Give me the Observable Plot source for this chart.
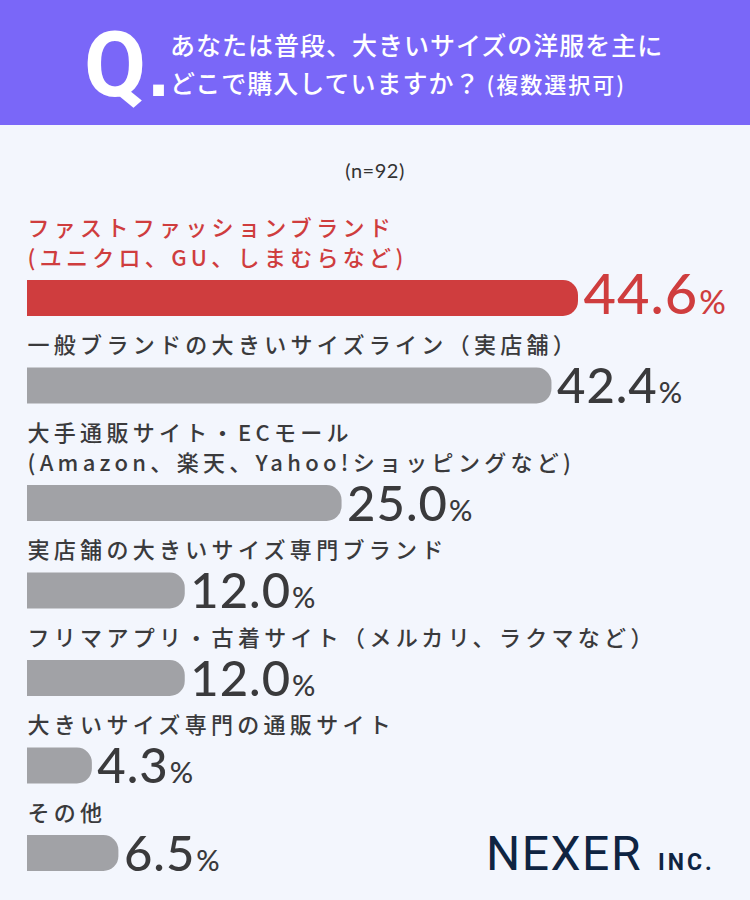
<!DOCTYPE html>
<html lang="ja">
<head>
<meta charset="utf-8">
<script src="https://cdn.jsdelivr.net/npm/d3@7"></script>
<script src="https://cdn.jsdelivr.net/npm/@observablehq/plot@0.6"></script>
<style>
  html, body { margin: 0; padding: 0; }
  body { width: 750px; height: 900px; background: #f3f6fd; position: relative; overflow: hidden;
         font-family: "Noto Sans CJK JP", "Noto Sans", sans-serif; }
  #header { position: absolute; left: 0; top: 0; width: 750px; height: 125px; background: #7a67f8; }
  #header svg, #logo { position: absolute; left: 0; top: 0; }
  #note { position: absolute; left: 0; top: 157px; width: 750px; text-align: center;
          font-family: Lato, Roboto, sans-serif; font-size: 20px; color: #333; line-height: 26px; letter-spacing: 0.5px; }
  #chart { position: absolute; left: 0; top: 200px; }
</style>
</head>
<body>
<div id="header"></div>
<div id="note"></div>
<div id="chart"></div>
<svg id="logo" width="750" height="900"></svg>
<script>
// ---- data ----
const questionLine1 = "あなたは普段、大きいサイズの洋服を主に";
const questionLine2 = "どこで購入していますか？";
const questionNote = "(複数選択可)";
const sampleNote = "(n=92)";
const categories = [
  "ファストファッションブランド\n(ユニクロ、GU、しまむらなど)",
  "一般ブランドの大きいサイズライン（実店舗）",
  "大手通販サイト・ECモール\n(Amazon、楽天、Yahoo!ショッピングなど)",
  "実店舗の大きいサイズ専門ブランド",
  "フリマアプリ・古着サイト（メルカリ、ラクマなど）",
  "大きいサイズ専門の通販サイト",
  "その他"
];
const values = [44.6, 42.4, 25.0, 12.0, 12.0, 4.3, 6.5];
const highlighted = [true, false, false, false, false, false, false];
const valueSuffix = "%";
const brand = "NEXER";
const brandSuffix = "INC.";

// ---- style ----
const RED = "#cf3d3e";
const GREY = "#a1a2a6";
const TEXT = "#3a3a3c";
const CAP = 13; // rounded cap added beyond the value end

// ---- header ----
const header = d3.select("#header").append("svg").attr("width", 750).attr("height", 125);
header.append("text").attr("x", 84).attr("y", 96)
  .attr("font-family", "Roboto, sans-serif").attr("font-weight", 700).attr("font-size", 90)
  .attr("fill", "#fff").text("Q");
header.append("text").attr("x", 148).attr("y", 96)
  .attr("font-family", "'Liberation Sans', sans-serif").attr("font-weight", 700).attr("font-size", 76)
  .attr("fill", "#fff").text(".");
header.append("text").attr("x", 170).attr("y", 55)
  .attr("font-family", "'Noto Sans CJK JP', sans-serif").attr("font-weight", 500).attr("font-size", 25)
  .attr("letter-spacing", 1).attr("fill", "#fff").text(questionLine1);
const l2 = header.append("text").attr("x", 170).attr("y", 93)
  .attr("font-family", "'Noto Sans CJK JP', sans-serif").attr("font-weight", 500).attr("font-size", 25)
  .attr("letter-spacing", 1).attr("fill", "#fff");
l2.append("tspan").text(questionLine2);
l2.append("tspan").attr("font-size", 22).attr("letter-spacing", 2).attr("dx", 6).text(questionNote);

d3.select("#note").text(sampleNote);

// ---- layout (derived from number of label lines) ----
const LINE = 30, LABEL_TO_BAR = 22, BAR_H = 36, BAR_TO_LABEL = 29.5;
let cursor = 28;
const rows = categories.map((c, i) => {
  const lines = c.split("\n");
  const lineYs = lines.map((_, k) => cursor + k * LINE);
  const top = lineYs[lineYs.length - 1] + LABEL_TO_BAR;
  const bottom = top + BAR_H;
  cursor = bottom + BAR_TO_LABEL;
  return {category: c, value: values[i], hi: highlighted[i], lines, lineYs, top, bottom};
});
const labelRows = rows.flatMap(r => r.lines.map((t, k) => ({text: t, y: r.lineYs[k], hi: r.hi})));
const fmt = v => v.toFixed(1);

const chart = Plot.plot({
  width: 750,
  height: 700,
  marginLeft: 27, marginRight: 0, marginTop: 0, marginBottom: 0,
  x: {domain: [0, 44.6], range: [27, 565], axis: null},
  y: {domain: [0, 700], range: [0, 700], axis: null},
  style: {background: "transparent", overflow: "visible"},
  marks: [
    Plot.rect(rows, {
      x1: () => 0, x2: "value", y1: "top", y2: "bottom",
      fill: d => d.hi ? RED : GREY,
      rx: 15, insetLeft: -20, insetRight: -CAP, clip: true
    }),
    Plot.text(labelRows, {
      x: () => 0, y: "y", text: "text", textAnchor: "start", lineAnchor: "middle",
      fill: d => d.hi ? RED : TEXT, fontSize: 22, fontWeight: 500,
      fontFamily: "'Noto Sans CJK JP', sans-serif"
    }),
    Plot.text(rows.filter(d => d.hi), {
      x: "value", y: d => d.bottom - 3, text: d => fmt(d.value),
      textAnchor: "start", lineAnchor: "bottom", dx: CAP + 5,
      fill: RED, fontSize: 56, fontWeight: 500, fontFamily: "Lato, sans-serif"
    }),
    Plot.text(rows.filter(d => !d.hi), {
      x: "value", y: d => d.bottom - 1, text: d => fmt(d.value),
      textAnchor: "start", lineAnchor: "bottom", dx: CAP + 5,
      fill: TEXT, fontSize: 49, fontWeight: 500, fontFamily: "Lato, sans-serif"
    })
  ]
});
document.getElementById("chart").appendChild(chart);

const labelSet = new Set(labelRows.map(d => d.text));
const valueSet = new Set(values.map(fmt));
d3.select(chart).selectAll("text").each(function () {
  const t = this.textContent;
  if (labelSet.has(t)) {
    this.setAttribute("letter-spacing", "4.3");
  } else if (valueSet.has(t)) {
    const fs = +this.getAttribute("font-size") || (this.parentNode && +this.parentNode.getAttribute("font-size"));
    const big = fs > 52;
    this.setAttribute("letter-spacing", "1");
    d3.select(this).append("tspan").attr("font-size", big ? 33 : 29).attr("dx", 1).text(valueSuffix);
  }
});

// ---- logo ----
const logo = d3.select("#logo");
logo.append("text").attr("x", 486).attr("y", 870)
  .attr("font-family", "Roboto, sans-serif").attr("font-weight", 400).attr("font-size", 48)
  .attr("letter-spacing", 1.5).attr("fill", "#0f2442").text(brand);
logo.append("text").attr("x", 658).attr("y", 870)
  .attr("font-family", "Roboto, sans-serif").attr("font-weight", 700).attr("font-size", 23)
  .attr("letter-spacing", 3).attr("fill", "#0f2442").text(brandSuffix);
</script>
</body>
</html>
